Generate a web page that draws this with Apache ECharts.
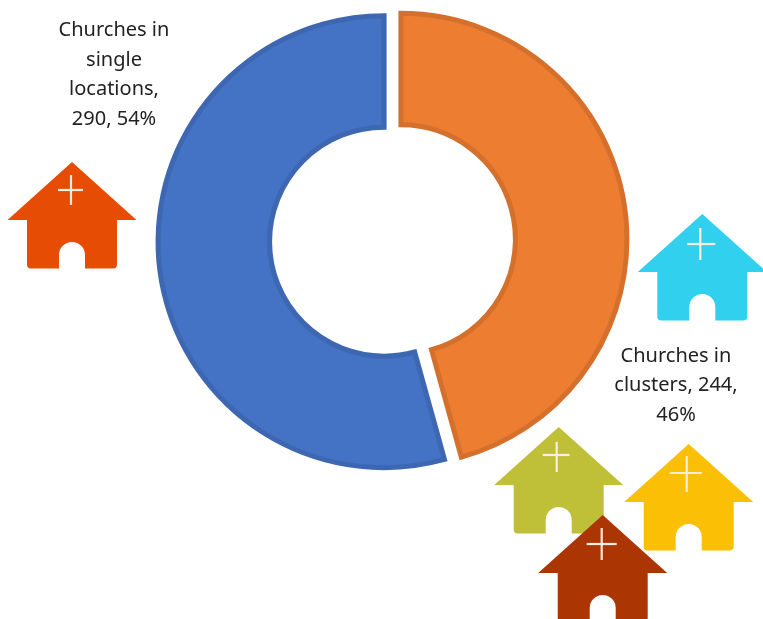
<!DOCTYPE html>
<html><head><meta charset="utf-8">
<style>html,body{margin:0;padding:0;background:#fff}#c{width:763px;height:619px}</style>
<script src="https://cdn.jsdelivr.net/npm/echarts@6/dist/echarts.min.js"></script>
</head><body><div id="c"></div>
<script>
const categories = ['Churches in clusters', 'Churches in single locations'];
const values = [244, 290];
const labelNames = ['Churches in\nclusters, ', 'Churches in\nsingle\nlocations,\n'];
const labelBreaks = [',\n', ', '];
const sliceColors = ['#ED7D31', '#4472C4'];
const sliceBorders = ['#D5702C', '#3D67B1'];
const labelSpots = [[676, 385.5], [114, 75]];
const houses = [
  {color:'#E64C04', x:72, y:162, cx:-1, top:13, bot:43, hy:28, l:-14, r:11},
  {color:'#30D0EE', x:702.3, y:214, cx:-2, top:14, bot:46, hy:30, l:-15, r:13},
  {color:'#BFC038', x:558.7, y:427, cx:-2, top:15, bot:45, hy:28, l:-16, r:11},
  {color:'#FBBF05', x:688.7, y:444, cx:-2, top:12, bot:48, hy:29, l:-19, r:13},
  {color:'#AB3503', x:602.7, y:515, cx:-1, top:13, bot:45, hy:29, l:-16, r:14}
];
const housePath = 'M0 0L64.5 58L45 58L45 102.5Q45 106.5 41 106.5L13 106.5L13 93A13 13 0 0 0 -13 93L-13 106.5L-41 106.5Q-45 106.5 -45 102.5L-45 58L-64.5 58Z';
const total = values.reduce((a,b)=>a+b,0);

const chart = echarts.init(document.getElementById('c'), null, {renderer:'canvas'});
chart.setOption({
  animation:false,
  backgroundColor:'#fff',
  series:[{
    type:'pie',
    center:[392.5,240.5],
    radius:[114.5,226],
    startAngle:90,
    clockwise:true,
    selectedMode:'multiple',
    selectedOffset:8.5,
    silent:true,
    labelLine:{show:false},
    label:{show:false},
    data:categories.map((n,i)=>({
      name:n, value:values[i], selected:true,
      itemStyle:{color:sliceColors[i], borderColor:sliceBorders[i], borderWidth:5, borderJoin:'miter'},
      select:{itemStyle:{color:sliceColors[i], borderColor:sliceBorders[i], borderWidth:5}}
    }))
  },{
    type:'custom',
    coordinateSystem:'none',
    silent:true,
    z:5,
    data:houses.map((h,i)=>i),
    renderItem:function(params){
      const h = houses[params.dataIndex];
      return {
        type:'group', x:h.x, y:h.y,
        children:[
          {type:'path', shape:{pathData:housePath, layout:'cover', x:-64.5, y:0, width:129, height:106.5}, style:{fill:h.color}},
          {type:'line', shape:{x1:h.cx,y1:h.top,x2:h.cx,y2:h.bot}, style:{stroke:'#fbeee0',lineWidth:2.2,fill:null}},
          {type:'line', shape:{x1:h.l,y1:h.hy,x2:h.r,y2:h.hy}, style:{stroke:'#fbeee0',lineWidth:2.2,fill:null}}
        ]
      };
    }
  },{
    type:'custom',
    coordinateSystem:'none',
    silent:true,
    z:6,
    data:values,
    renderItem:function(params){
      const i = params.dataIndex;
      const t = labelNames[i] + values[i] + labelBreaks[i] + Math.round(values[i]/total*100) + '%';
      return {
        type:'text', x:labelSpots[i][0], y:labelSpots[i][1],
        style:{text:t, align:'center', verticalAlign:'middle', fill:'#222222',
               font:'20px "Noto Sans"', lineHeight:29.5}
      };
    }
  }]
});
</script></body></html>
